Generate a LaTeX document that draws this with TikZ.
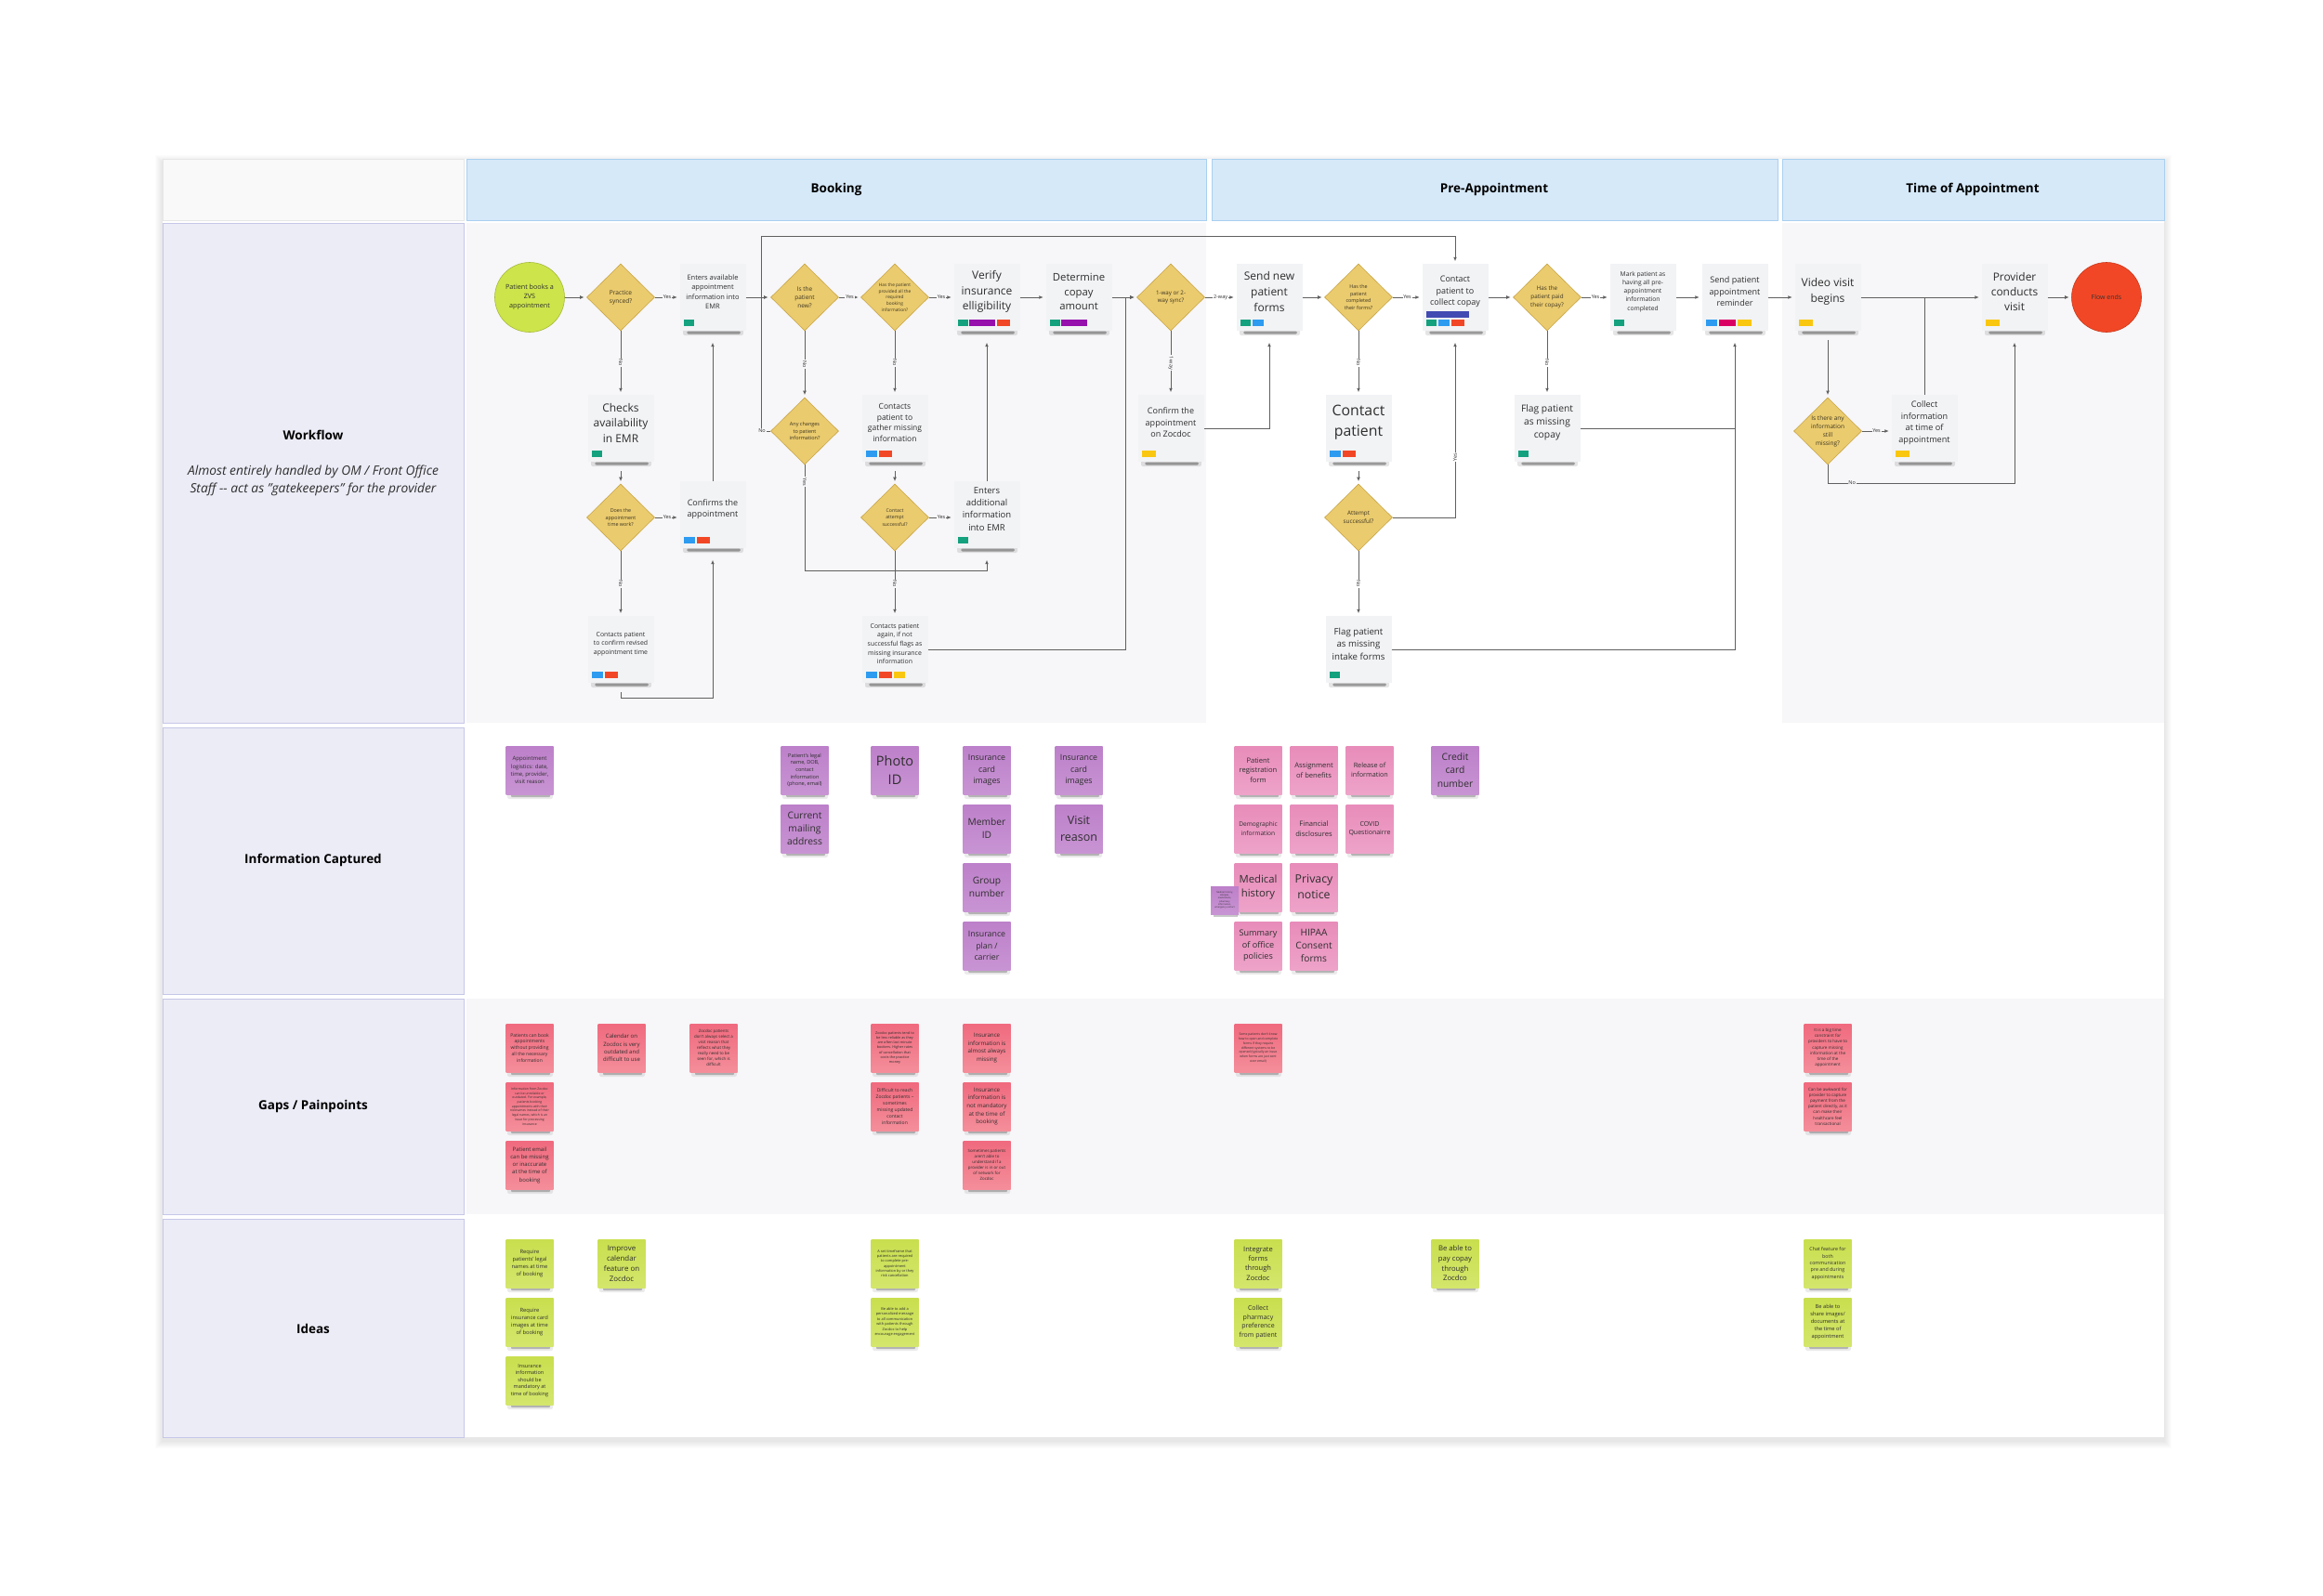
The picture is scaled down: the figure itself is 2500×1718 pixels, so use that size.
\documentclass[tikz,border=0pt]{standalone}
\usepackage{fontspec}
\setmainfont{Open Sans}
\usetikzlibrary{shapes.geometric,arrows.meta,calc}
\definecolor{hdrfill}{HTML}{D6E9F9}
\definecolor{hdrline}{HTML}{A9D0F0}
\definecolor{hdrleft}{HTML}{F9F9F9}
\definecolor{hdrleftline}{HTML}{E6E6E6}
\definecolor{lblfill}{HTML}{ECECF7}
\definecolor{lblline}{HTML}{C6C6E8}
\definecolor{cellg}{HTML}{F7F6F8}
\definecolor{boxfill}{HTML}{F2F3F5}
\definecolor{diafill}{HTML}{EACB6E}
\definecolor{dialine}{HTML}{C9A646}
\definecolor{conn}{HTML}{606060}
\definecolor{txt}{HTML}{2E2E2E}
\definecolor{dtxt}{HTML}{3D3522}
\definecolor{tgG}{HTML}{13A17E}
\definecolor{tgB}{HTML}{2D9BF0}
\definecolor{tgR}{HTML}{F24726}
\definecolor{tgY}{HTML}{FAC710}
\definecolor{tgP}{HTML}{9510AC}
\definecolor{tgM}{HTML}{DA0063}
\definecolor{tgN}{HTML}{414BB2}
\definecolor{stPt}{HTML}{BD80CA}
\definecolor{stPb}{HTML}{C894D3}
\definecolor{stKt}{HTML}{E88CBA}
\definecolor{stKb}{HTML}{EEA3C9}
\definecolor{stCt}{HTML}{F06A7E}
\definecolor{stCb}{HTML}{F48E9A}
\definecolor{stLt}{HTML}{C9DF4E}
\definecolor{stLb}{HTML}{D4E66C}
\definecolor{limefill}{HTML}{CDE54A}
\definecolor{limeline}{HTML}{A5B83A}
\definecolor{endred}{HTML}{F24726}
\definecolor{endline}{HTML}{C8381C}
\newcommand\fs[1]{\fontsize{#1}{\fpeval{1.38*#1}}\selectfont}
\newcommand\wbox[5]{%
  \fill[black, opacity=.10, rounded corners=2pt] ({#2-32},{#3+34}) rectangle ({#2+33},{#3+41});
  \fill[black!75, opacity=.45, rounded corners=1.5pt] ({#2-28},{#3+36.5}) rectangle ({#2+30},{#3+39.5});
  \node[wb] (#1) at (#2,#3) {};
  \node[wt, font=\fs{#4}] (#1-t) at ([yshift=6pt]#1.center) {#5};}
\newcommand\dia[5]{%
  \node[dm] (#1) at (#2,#3) {};
  \node[dt, font=\fs{#4}] (#1-t) at (#1.center) {#5};}
\newcommand\tg[4]{\fill[#2] ([xshift=#3pt,yshift=5pt]#1.south west) rectangle ++(#4pt,7.5pt);}
\newcommand\stk[6]{%
  \fill[black, opacity=.08, rounded corners=2pt] ({#2-24},{#3+24}) rectangle ({#2+25},{#3+31});
  \fill[black!70, opacity=.35, rounded corners=1pt] ({#2-20},{#3+26}) rectangle ({#2+22},{#3+29});
  \node[st, top color=#4t, bottom color=#4b, font=\fs{#5}] (#1) at (#2,#3) {#6};}
\begin{document}
\begin{tikzpicture}[x=1pt,y=-1pt,
  wb/.style={rectangle, fill=boxfill, minimum width=71pt, minimum height=72pt, inner sep=0pt},
  wt/.style={align=center, text=txt, inner sep=0pt},
  dm/.style={diamond, fill=diafill, draw=dialine, line width=0.6pt, minimum width=73pt, minimum height=72pt, inner sep=0pt},
  dt/.style={align=center, text=dtxt, inner sep=0pt},
  st/.style={rectangle, minimum width=51pt, minimum height=52pt, inner sep=0pt, align=center, text=txt},
  arr/.style={draw=conn, line width=1pt, -{Latex[length=4.5pt,width=3.8pt]}, shorten >=2.5pt},
  ln/.style={draw=conn, line width=1pt},
  lbl/.style={font=\fs{5.5}, text=txt, inner sep=0.8pt, fill=cellg},
  lblw/.style={lbl, fill=white},
  hdr/.style={font=\bfseries\fs{13.5}, text=black}]
\useasboundingbox (0,0) rectangle (2500,1718);
\fill[white] (0,0) rectangle (2500,1718);
% table shadow
\foreach \i in {1,...,8} {\fill[black, opacity=0.012] ({175-\i},{171-\i+4}) rectangle ({2329+\i},{1547+\i+4});}
\fill[white] (175,171) rectangle (2329,1547);
% header
\filldraw[fill=hdrleft, draw=hdrleftline] (175,171) rectangle (499,237);
\filldraw[fill=hdrfill, draw=hdrline] (502,171) rectangle (1298,237);
\filldraw[fill=hdrfill, draw=hdrline] (1304,171) rectangle (1913,237);
\filldraw[fill=hdrfill, draw=hdrline] (1918,171) rectangle (2329,237);
\node[hdr] (hB) at (900,204) {Booking};
\node[hdr] (hP) at (1608,204) {Pre-Appointment};
\node[hdr] (hT) at (2123,204) {Time of Appointment};
% row label cells
\filldraw[fill=lblfill, draw=lblline] (175,240) rectangle (499,778);
\filldraw[fill=lblfill, draw=lblline] (175,783) rectangle (499,1070);
\filldraw[fill=lblfill, draw=lblline] (175,1075) rectangle (499,1307);
\filldraw[fill=lblfill, draw=lblline] (175,1312) rectangle (499,1547);
% content cells
\fill[cellg] (502,240) rectangle (1298,778);
\fill[cellg] (1918,240) rectangle (2329,778);
\fill[cellg] (502,1075) rectangle (2329,1307);
\node[hdr] (lw) at (337,468) {Workflow};
\node[align=center, font=\itshape\fs{13.8}, text=txt] (lwd) at (337,517) {Almost entirely handled by OM / Front Office\\Staff -{}- act as "gatekeepers" for the provider};
\node[hdr] (li) at (337,926) {Information Captured};
\node[hdr] (lg) at (337,1191) {Gaps / Painpoints};
\node[hdr] (lid) at (337,1430) {Ideas};

% ---------- workflow nodes ----------
\node[circle, fill=limefill, draw=limeline, line width=0.6pt, minimum size=75pt, inner sep=0pt, align=center, text=txt, font=\fs{7.2}] (s1) at (570,320) {Patient books a\\ZVS\\appointment};
\dia{d1}{668}{320}{6.6}{Practice\\synced?}
\wbox{b1}{767}{320}{7.5}{Enters available\\appointment\\information into\\EMR}
\tg{b1}{tgG}{4.5}{11}
\wbox{b2}{668}{461}{12}{Checks\\availability\\in EMR}
\tg{b2}{tgG}{4.5}{11}
\dia{d2}{668}{557}{5.4}{Does the\\appointment\\time work?}
\wbox{b3}{767}{554}{9}{Confirms the\\appointment}
\tg{b3}{tgB}{4.5}{12}\tg{b3}{tgR}{18.5}{14}
\wbox{b4}{668}{699}{6.9}{Contacts patient\\to confirm revised\\appointment time}
\tg{b4}{tgB}{4.5}{12}\tg{b4}{tgR}{18.5}{14}
\dia{d3}{866}{320}{6.5}{Is the\\patient\\new?}
\dia{d4}{963}{320}{4.8}{Has the patient\\provided all the\\required\\booking\\information?}
\dia{d5}{866}{464}{5.5}{Any changes\\to patient\\information?}
\wbox{b5}{963}{461}{8.5}{Contacts\\patient to\\gather missing\\information}
\tg{b5}{tgB}{4.5}{12}\tg{b5}{tgR}{18.5}{14}
\dia{d6}{963}{557}{5.2}{Contact\\attempt\\successful?}
\wbox{b6}{963}{699}{6.9}{Contacts patient\\again, if not\\successful flags as\\missing insurance\\information}
\tg{b6}{tgB}{4.5}{12}\tg{b6}{tgR}{18.5}{14}\tg{b6}{tgY}{34.5}{12}
\wbox{b7}{1062}{320}{12}{Verify\\insurance\\elligibility}
\tg{b7}{tgG}{4.5}{11}\tg{b7}{tgP}{17}{28}\tg{b7}{tgR}{47}{14}
\wbox{b8}{1062}{554}{9.5}{Enters\\additional\\information\\into EMR}
\tg{b8}{tgG}{4.5}{11}
\wbox{b9}{1161}{320}{11.3}{Determine\\copay\\amount}
\tg{b9}{tgG}{4.5}{11}\tg{b9}{tgP}{17}{28}
\dia{d7}{1260}{320}{6.2}{1-way or 2-\\way sync?}
\wbox{b10}{1260}{461}{9}{Confirm the\\appointment\\on Zocdoc}
\tg{b10}{tgY}{4.5}{15}
\wbox{b11}{1366}{320}{12}{Send new\\patient\\forms}
\tg{b11}{tgG}{4.5}{11}\tg{b11}{tgB}{17.5}{12}
\dia{d8}{1462}{320}{5.4}{Has the\\patient\\completed\\their forms?}
\wbox{b12}{1566}{320}{9}{Contact\\patient to\\collect copay}
\fill[tgN] ([xshift=4.5pt,yshift=14.5pt]b12.south west) rectangle ++(46pt,7pt);
\tg{b12}{tgG}{4.5}{11}\tg{b12}{tgB}{17.5}{12}\tg{b12}{tgR}{31.5}{14}
\wbox{b13}{1462}{461}{15.8}{Contact\\patient}
\tg{b13}{tgB}{4.5}{12}\tg{b13}{tgR}{18.5}{14}
\dia{d9}{1462}{557}{6.3}{Attempt\\successful?}
\wbox{b14}{1462}{699}{9.7}{Flag patient\\as missing\\intake forms}
\tg{b14}{tgG}{4.5}{11}
\dia{d10}{1665}{320}{6.3}{Has the\\patient paid\\their copay?}
\wbox{b15}{1665}{461}{10.3}{Flag patient\\as missing\\copay}
\tg{b15}{tgG}{4.5}{11}
\wbox{b16}{1768}{320}{6.7}{Mark patient as\\having all pre-\\appointment\\information\\completed}
\tg{b16}{tgG}{4.5}{11}
\wbox{b17}{1867}{320}{9}{Send patient\\appointment\\reminder}
\tg{b17}{tgB}{4.5}{12}\tg{b17}{tgM}{18.5}{18}\tg{b17}{tgY}{38.5}{15}
\wbox{b18}{1967}{320}{12}{Video visit\\begins}
\tg{b18}{tgY}{4.5}{15}
\dia{d11}{1967}{464}{6.5}{Is there any\\information\\still\\missing?}
\wbox{b19}{2071}{461}{9.1}{Collect\\information\\at time of\\appointment}
\tg{b19}{tgY}{4.5}{15}
\wbox{b20}{2168}{320}{11.9}{Provider\\conducts\\visit}
\tg{b20}{tgY}{4.5}{15}
\node[circle, fill=endred, draw=endline, line width=0.6pt, minimum size=75pt, inner sep=0pt, text=black!80, font=\fs{7}] (e1) at (2267,320) {Flow ends};

% ---------- connectors ----------
\draw[arr] (s1.east) -- (d1.west);
\draw[arr] (d1.east) -- node[lbl]{Yes} (b1.west);
\draw[arr] (d1.south) -- node[lbl, rotate=-90]{No} (b2.north);
\draw[arr] ([yshift=-10pt]b2.south) -- (d2.north);
\draw[arr] (d2.east) -- node[lbl]{Yes} (d2.east -| b3.west);
\draw[arr] (d2.south) -- node[lbl, rotate=-90]{No} (b4.north);
\draw[arr] ([yshift=-10pt]b4.south) -- ++(0,6) -| ([yshift=-10pt]b3.south);
\draw[arr] (b3.north) -- ([yshift=-10pt]b1.south);
\draw[arr] (b1.east) -- (d3.west);
\draw[arr] (d3.east) -- node[lbl]{Yes} (d4.west);
\draw[arr] (d3.south) -- node[lbl, rotate=-90]{No} (d5.north);
\draw[arr] (d5.west) -- (819,464) -- (819,254) -| (b12.north);
\node[lbl] (d5no) at (820,464) {No};
\draw[arr] (d5.south) -- node[lbl, rotate=-90, pos=0.16]{Yes} (866,614) -| ([yshift=-10pt]b8.south);
\draw[arr] (d4.east) -- node[lbl]{Yes} (b7.west);
\draw[arr] (d4.south) -- node[lbl, rotate=-90]{No} (b5.north);
\draw[arr] ([yshift=-10pt]b5.south) -- (d6.north);
\draw[arr] (d6.east) -- node[lbl]{Yes} (d6.east -| b8.west);
\draw[arr] (d6.south) -- node[lbl, rotate=-90]{No} (b6.north);
\draw[arr] (b8.north) -- ([yshift=-10pt]b7.south);
\draw[arr] (b6.east) -- (1211,699) -- (1211,320) -- (d7.west);
\draw[arr] (b7.east) -- (b9.west);
\draw[arr] (b9.east) -- (d7.west);
\draw[arr] (d7.east) -- node[lblw]{2-way} (b11.west);
\draw[arr] (d7.south) -- node[lbl, rotate=-90]{1-way} (b10.north);
\draw[arr] (b10.east) -| ([yshift=-10pt]b11.south);
\draw[arr] (b11.east) -- (d8.west);
\draw[arr] (d8.east) -- node[lblw]{Yes} (b12.west);
\draw[arr] (d8.south) -- node[lblw, rotate=-90]{No} (b13.north);
\draw[arr] ([yshift=-10pt]b13.south) -- (d9.north);
\draw[arr] (d9.east) -| node[lblw, rotate=90, pos=0.67]{Yes} ([yshift=-10pt]b12.south);
\draw[arr] (d9.south) -- node[lblw, rotate=-90]{No} (b14.north);
\draw[arr] (b12.east) -- (d10.west);
\draw[arr] (d10.east) -- node[lblw]{Yes} (b16.west);
\draw[arr] (d10.south) -- node[lblw, rotate=-90]{No} (b15.north);
\draw[arr] (b16.east) -- (b17.west);
\draw[arr] (b14.east) -- (1867,699) -- ([yshift=-10pt]b17.south);
\draw[ln] (b15.east) -- (1867,461);
\draw[arr] (b17.east) -- (b18.west);
\draw[arr] (b18.east) -- (b20.west);
\draw[ln] (b19.north) -- (2071,320);
\draw[arr] ([yshift=-10pt]b18.south) -- (d11.north);
\draw[arr] (d11.east) -- node[lbl]{Yes} (d11.east -| b19.west);
\draw[arr] (d11.south) -- (1967,520) -- node[lbl, pos=0.13]{No} (2168,520) -- ([yshift=-10pt]b20.south);
\draw[arr] (b20.east) -- (e1.west);

% ---------- information captured ----------
\stk{i1}{570}{829}{stP}{6}{Appointment\\logistics: date,\\time, provider,\\visit reason}
\stk{i2}{866}{829}{stP}{5.6}{Patient's legal\\name, DOB,\\contact\\information\\(phone, email)}
\stk{i3}{866}{892}{stP}{10.3}{Current\\mailing\\address}
\stk{i4}{963}{829}{stP}{14.5}{Photo\\ID}
\stk{i5}{1062}{829}{stP}{8.8}{Insurance\\card\\images}
\stk{i6}{1062}{892}{stP}{10.2}{Member\\ID}
\stk{i7}{1062}{955}{stP}{10.2}{Group\\number}
\stk{i8}{1062}{1018}{stP}{8.8}{Insurance\\plan /\\carrier}
\stk{i9}{1161}{829}{stP}{8.8}{Insurance\\card\\images}
\stk{i10}{1161}{892}{stP}{12.5}{Visit\\reason}
\stk{p1}{1354}{829}{stK}{7.6}{Patient\\registration\\form}
\stk{p2}{1414}{829}{stK}{7.6}{Assignment\\of benefits}
\stk{p3}{1474}{829}{stK}{7.2}{Release of\\information}
\stk{p4}{1354}{892}{stK}{6.6}{Demographic\\information}
\stk{p5}{1414}{892}{stK}{7.6}{Financial\\disclosures}
\stk{p6}{1474}{892}{stK}{7}{COVID\\Questionairre}
\stk{p7}{1354}{955}{stK}{11.3}{Medical\\history}
\stk{p8}{1414}{955}{stK}{12.3}{Privacy\\notice}
\stk{p9}{1354}{1018}{stK}{9.1}{Summary\\of office\\policies}
\stk{p10}{1414}{1018}{stK}{10.2}{HIPAA\\Consent\\forms}
\fill[black!70, opacity=.3] (1306,984) rectangle (1332,986.5);
\node[st, top color=stPt, bottom color=stPb, minimum width=30pt, minimum height=30pt, font=\fs{2.4}] (p0) at (1318,969) {Medical history,\\allergies,\\medications,\\pharmacy\\information,\\emergency contact};
\stk{i11}{1566}{829}{stP}{10.3}{Credit\\card\\number}

% ---------- gaps ----------
\stk{g1}{570}{1128}{stC}{5}{Patients can book\\appointments\\without providing\\all the necessary\\information}
\stk{g2}{570}{1191}{stC}{3.4}{Information from Zocdoc\\can be unreliable or\\outdated. For example,\\patients booking\\appointments with their\\nicknames instead of their\\legal names, which is an\\issue for processing\\insurance}
\stk{g3}{570}{1254}{stC}{6}{Patient email\\can be missing\\or inaccurate\\at the time of\\booking}
\stk{g4}{669}{1128}{stC}{6}{Calendar on\\Zocdoc is very\\outdated and\\difficult to use}
\stk{g5}{768}{1128}{stC}{4.4}{Zocdoc patients\\don't always select a\\visit reason that\\reflects what they\\really need to be\\seen for, which is\\difficult}
\stk{g6}{963}{1128}{stC}{3.8}{Zocdoc patients tend to\\be less reliable as they\\are often last minute\\bookers. Higher rates\\of cancellation that\\costs the practice\\money}
\stk{g7}{963}{1191}{stC}{5}{Difficult to reach\\Zocdoc patients --\\sometimes\\missing updated\\contact\\information}
\stk{g8}{1062}{1128}{stC}{6.2}{Insurance\\information is\\almost always\\missing}
\stk{g9}{1062}{1191}{stC}{6.2}{Insurance\\information is\\not mandatory\\at the time of\\booking}
\stk{g10}{1062}{1254}{stC}{4.4}{Sometimes patients\\aren't able to\\understand if a\\provider is in or out\\of network for\\Zocdoc}
\stk{g11}{1354}{1128}{stC}{3.4}{Some patients don't know\\how to open and complete\\forms if they require\\different systems to be\\opened (typically an issue\\when forms are just sent\\over email)}
\stk{g12}{1967}{1128}{stC}{4.5}{It is a big time\\constraint for\\providers to have to\\capture missing\\information at the\\time of the\\appointment}
\stk{g13}{1967}{1191}{stC}{4.5}{Can be awkward for\\provider to capture\\payment from the\\patient directly, as it\\can make their\\healthcare feel\\transactional}

% ---------- ideas ----------
\stk{h1}{570}{1360}{stL}{5.8}{Require\\patients' legal\\names at time\\of booking}
\stk{h2}{570}{1423}{stL}{5.8}{Require\\insurance card\\images at time\\of booking}
\stk{h3}{570}{1486}{stL}{5.5}{Insurance\\information\\should be\\mandatory at\\time of booking}
\stk{h4}{669}{1360}{stL}{7.9}{Improve\\calendar\\feature on\\Zocdoc}
\stk{h5}{963}{1360}{stL}{3.9}{A set timeframe that\\patients are required\\to complete pre-\\appointment\\information by or they\\risk cancellation}
\stk{h6}{963}{1423}{stL}{3.9}{Be able to add a\\personalized message\\to all communication\\with patients through\\Zocdoc to help\\encourage engagement}
\stk{h7}{1354}{1360}{stL}{7.5}{Integrate\\forms\\through\\Zocdoc}
\stk{h8}{1354}{1423}{stL}{7}{Collect\\pharmacy\\preference\\from patient}
\stk{h9}{1566}{1360}{stL}{7.7}{Be able to\\pay copay\\through\\Zocdco}
\stk{h10}{1967}{1360}{stL}{5.3}{Chat feature for\\both\\communication\\pre and during\\appointments}
\stk{h11}{1967}{1423}{stL}{5.7}{Be able to\\share images/\\documents at\\the time of\\appointment}
\end{tikzpicture}
\end{document}
